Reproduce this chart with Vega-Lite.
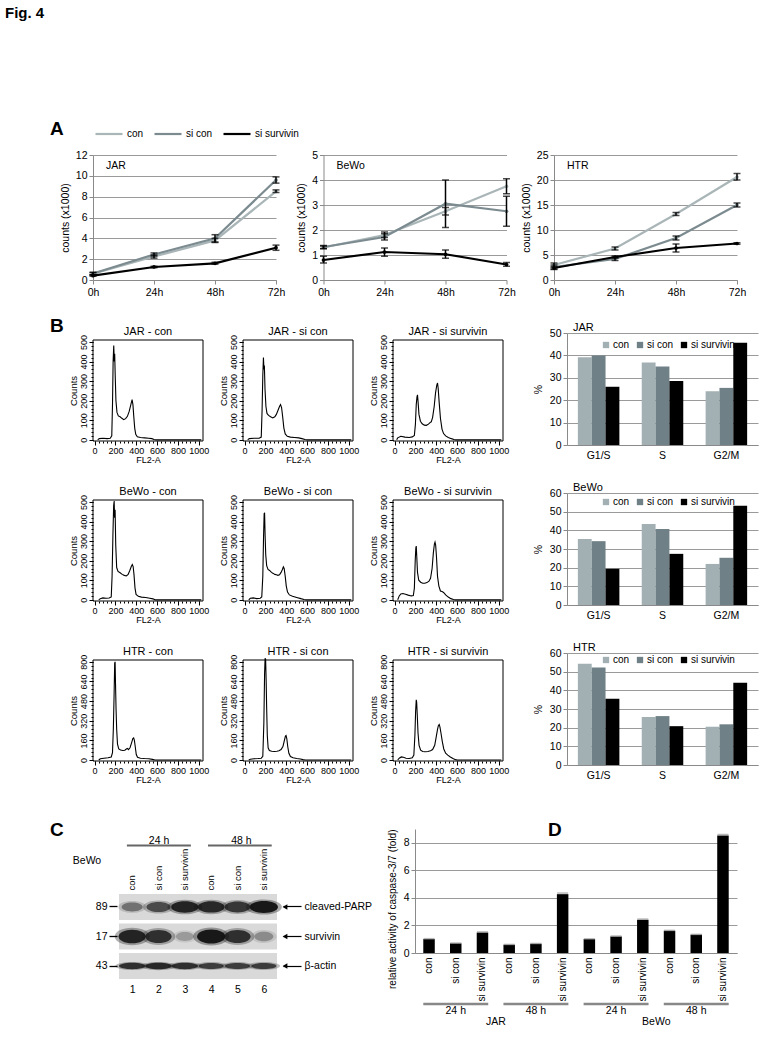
{
"$schema":"https://vega.github.io/schema/vega-lite/v6.json",
"padding":{"left":5,"top":6,"right":5,"bottom":5},
"background":"white",
"title":{"text":"Fig. 4","anchor":"start","frame":"bounds","dx":-45,"fontSize":15,"fontWeight":"bold","offset":98},
"config":{
 "font":"Liberation Sans",
 "view":{"stroke":null},
 "axis":{"labelColor":"#000","titleColor":"#000","labelFontSize":10.5,"titleFontSize":10.5,"titleFontWeight":"normal","domainColor":"#8a8a8a","tickColor":"#8a8a8a","gridColor":"#9a9a9a","gridWidth":1,"labelOverlap":false},
 "title":{"fontWeight":"normal","fontSize":11,"color":"#000"},
 "legend":{"labelFontSize":10,"labelColor":"#000"}
},
"resolve":{"scale":{"color":"independent"},"legend":{"color":"independent"}},
"columns":1,"spacing":19,
"datasets":{
 "growth":[
  {"c":"JAR","g":"con","t":"0h","v":0.6,"lo":0.5,"hi":0.7},
  {"c":"JAR","g":"con","t":"24h","v":2.25,"lo":2.1,"hi":2.4},
  {"c":"JAR","g":"con","t":"48h","v":3.8,"lo":3.6,"hi":4.0},
  {"c":"JAR","g":"con","t":"72h","v":8.5,"lo":8.4,"hi":8.65},
  {"c":"JAR","g":"si con","t":"0h","v":0.62,"lo":0.5,"hi":0.75},
  {"c":"JAR","g":"si con","t":"24h","v":2.45,"lo":2.3,"hi":2.6},
  {"c":"JAR","g":"si con","t":"48h","v":4.0,"lo":3.65,"hi":4.35},
  {"c":"JAR","g":"si con","t":"72h","v":9.6,"lo":9.3,"hi":9.9},
  {"c":"JAR","g":"si survivin","t":"0h","v":0.42,"lo":0.36,"hi":0.48},
  {"c":"JAR","g":"si survivin","t":"24h","v":1.25,"lo":1.18,"hi":1.32},
  {"c":"JAR","g":"si survivin","t":"48h","v":1.6,"lo":1.52,"hi":1.7},
  {"c":"JAR","g":"si survivin","t":"72h","v":3.1,"lo":2.85,"hi":3.35},
  {"c":"BeWo","g":"con","t":"0h","v":1.3,"lo":1.25,"hi":1.36},
  {"c":"BeWo","g":"con","t":"24h","v":1.8,"lo":1.7,"hi":1.92},
  {"c":"BeWo","g":"con","t":"48h","v":2.75,"lo":2.6,"hi":2.9},
  {"c":"BeWo","g":"con","t":"72h","v":3.75,"lo":3.45,"hi":4.05},
  {"c":"BeWo","g":"si con","t":"0h","v":1.32,"lo":1.26,"hi":1.38},
  {"c":"BeWo","g":"si con","t":"24h","v":1.72,"lo":1.6,"hi":1.85},
  {"c":"BeWo","g":"si con","t":"48h","v":3.05,"lo":2.1,"hi":4.0},
  {"c":"BeWo","g":"si con","t":"72h","v":2.75,"lo":2.15,"hi":3.35},
  {"c":"BeWo","g":"si survivin","t":"0h","v":0.8,"lo":0.68,"hi":0.95},
  {"c":"BeWo","g":"si survivin","t":"24h","v":1.12,"lo":0.95,"hi":1.28},
  {"c":"BeWo","g":"si survivin","t":"48h","v":1.03,"lo":0.87,"hi":1.2},
  {"c":"BeWo","g":"si survivin","t":"72h","v":0.62,"lo":0.55,"hi":0.7},
  {"c":"HTR","g":"con","t":"0h","v":3.0,"lo":2.5,"hi":3.4},
  {"c":"HTR","g":"con","t":"24h","v":6.3,"lo":6.0,"hi":6.6},
  {"c":"HTR","g":"con","t":"48h","v":13.2,"lo":12.9,"hi":13.5},
  {"c":"HTR","g":"con","t":"72h","v":20.6,"lo":20.0,"hi":21.3},
  {"c":"HTR","g":"si con","t":"0h","v":2.6,"lo":2.2,"hi":3.0},
  {"c":"HTR","g":"si con","t":"24h","v":4.2,"lo":3.9,"hi":4.5},
  {"c":"HTR","g":"si con","t":"48h","v":8.4,"lo":8.0,"hi":8.8},
  {"c":"HTR","g":"si con","t":"72h","v":15.0,"lo":14.6,"hi":15.4},
  {"c":"HTR","g":"si survivin","t":"0h","v":2.4,"lo":2.1,"hi":2.7},
  {"c":"HTR","g":"si survivin","t":"24h","v":4.6,"lo":4.4,"hi":4.8},
  {"c":"HTR","g":"si survivin","t":"48h","v":6.4,"lo":5.6,"hi":7.2},
  {"c":"HTR","g":"si survivin","t":"72h","v":7.3,"lo":7.15,"hi":7.45}
 ],
 "phase":[
  {"c":"JAR","ph":"G1/S","g":"con","v":39.2},{"c":"JAR","ph":"G1/S","g":"si con","v":40.0},{"c":"JAR","ph":"G1/S","g":"si survivin","v":26.0},
  {"c":"JAR","ph":"S","g":"con","v":36.8},{"c":"JAR","ph":"S","g":"si con","v":35.0},{"c":"JAR","ph":"S","g":"si survivin","v":28.6},
  {"c":"JAR","ph":"G2/M","g":"con","v":24.0},{"c":"JAR","ph":"G2/M","g":"si con","v":25.5},{"c":"JAR","ph":"G2/M","g":"si survivin","v":45.6},
  {"c":"BeWo","ph":"G1/S","g":"con","v":35.3},{"c":"BeWo","ph":"G1/S","g":"si con","v":34.2},{"c":"BeWo","ph":"G1/S","g":"si survivin","v":19.4},
  {"c":"BeWo","ph":"S","g":"con","v":43.4},{"c":"BeWo","ph":"S","g":"si con","v":40.7},{"c":"BeWo","ph":"S","g":"si survivin","v":27.4},
  {"c":"BeWo","ph":"G2/M","g":"con","v":22.0},{"c":"BeWo","ph":"G2/M","g":"si con","v":25.3},{"c":"BeWo","ph":"G2/M","g":"si survivin","v":53.2},
  {"c":"HTR","ph":"G1/S","g":"con","v":54.3},{"c":"HTR","ph":"G1/S","g":"si con","v":52.2},{"c":"HTR","ph":"G1/S","g":"si survivin","v":35.5},
  {"c":"HTR","ph":"S","g":"con","v":25.7},{"c":"HTR","ph":"S","g":"si con","v":26.2},{"c":"HTR","ph":"S","g":"si survivin","v":20.8},
  {"c":"HTR","ph":"G2/M","g":"con","v":20.5},{"c":"HTR","ph":"G2/M","g":"si con","v":21.8},{"c":"HTR","ph":"G2/M","g":"si survivin","v":44.0}
 ],
 "hist":[
  {"p":"JAR - con","x":30,"c":0},{"p":"JAR - con","x":45,"c":6},{"p":"JAR - con","x":80,"c":8},{"p":"JAR - con","x":120,"c":6},{"p":"JAR - con","x":150,"c":8},{"p":"JAR - con","x":165,"c":20},{"p":"JAR - con","x":172,"c":180},{"p":"JAR - con","x":178,"c":400},{"p":"JAR - con","x":184,"c":482},{"p":"JAR - con","x":189,"c":400},{"p":"JAR - con","x":193,"c":440},{"p":"JAR - con","x":198,"c":330},{"p":"JAR - con","x":205,"c":200},{"p":"JAR - con","x":215,"c":140},{"p":"JAR - con","x":228,"c":122},{"p":"JAR - con","x":245,"c":118},{"p":"JAR - con","x":262,"c":110},{"p":"JAR - con","x":280,"c":103},{"p":"JAR - con","x":298,"c":108},{"p":"JAR - con","x":315,"c":120},{"p":"JAR - con","x":332,"c":145},{"p":"JAR - con","x":348,"c":180},{"p":"JAR - con","x":360,"c":205},{"p":"JAR - con","x":368,"c":180},{"p":"JAR - con","x":376,"c":120},{"p":"JAR - con","x":385,"c":60},{"p":"JAR - con","x":395,"c":28},{"p":"JAR - con","x":410,"c":16},{"p":"JAR - con","x":440,"c":12},{"p":"JAR - con","x":480,"c":10},{"p":"JAR - con","x":520,"c":8},{"p":"JAR - con","x":550,"c":6},{"p":"JAR - con","x":570,"c":2},{"p":"JAR - con","x":590,"c":0},{"p":"JAR - con","x":1024,"c":0},
  {"p":"JAR - si con","x":30,"c":0},{"p":"JAR - si con","x":45,"c":6},{"p":"JAR - si con","x":90,"c":8},{"p":"JAR - si con","x":140,"c":8},{"p":"JAR - si con","x":160,"c":14},{"p":"JAR - si con","x":168,"c":150},{"p":"JAR - si con","x":175,"c":330},{"p":"JAR - si con","x":181,"c":420},{"p":"JAR - si con","x":186,"c":360},{"p":"JAR - si con","x":190,"c":380},{"p":"JAR - si con","x":196,"c":260},{"p":"JAR - si con","x":205,"c":170},{"p":"JAR - si con","x":215,"c":135},{"p":"JAR - si con","x":230,"c":125},{"p":"JAR - si con","x":250,"c":118},{"p":"JAR - si con","x":270,"c":112},{"p":"JAR - si con","x":290,"c":118},{"p":"JAR - si con","x":305,"c":130},{"p":"JAR - si con","x":320,"c":150},{"p":"JAR - si con","x":335,"c":170},{"p":"JAR - si con","x":345,"c":180},{"p":"JAR - si con","x":355,"c":165},{"p":"JAR - si con","x":365,"c":120},{"p":"JAR - si con","x":377,"c":60},{"p":"JAR - si con","x":390,"c":30},{"p":"JAR - si con","x":410,"c":18},{"p":"JAR - si con","x":440,"c":14},{"p":"JAR - si con","x":480,"c":12},{"p":"JAR - si con","x":520,"c":10},{"p":"JAR - si con","x":550,"c":6},{"p":"JAR - si con","x":580,"c":2},{"p":"JAR - si con","x":600,"c":0},{"p":"JAR - si con","x":1024,"c":0},
  {"p":"JAR - si survivin","x":20,"c":0},{"p":"JAR - si survivin","x":30,"c":10},{"p":"JAR - si survivin","x":60,"c":18},{"p":"JAR - si survivin","x":100,"c":14},{"p":"JAR - si survivin","x":140,"c":12},{"p":"JAR - si survivin","x":170,"c":15},{"p":"JAR - si survivin","x":190,"c":22},{"p":"JAR - si survivin","x":200,"c":80},{"p":"JAR - si survivin","x":208,"c":180},{"p":"JAR - si survivin","x":215,"c":220},{"p":"JAR - si survivin","x":220,"c":230},{"p":"JAR - si survivin","x":226,"c":190},{"p":"JAR - si survivin","x":234,"c":130},{"p":"JAR - si survivin","x":248,"c":95},{"p":"JAR - si survivin","x":265,"c":82},{"p":"JAR - si survivin","x":285,"c":75},{"p":"JAR - si survivin","x":305,"c":74},{"p":"JAR - si survivin","x":325,"c":80},{"p":"JAR - si survivin","x":340,"c":88},{"p":"JAR - si survivin","x":352,"c":92},{"p":"JAR - si survivin","x":365,"c":115},{"p":"JAR - si survivin","x":380,"c":170},{"p":"JAR - si survivin","x":393,"c":240},{"p":"JAR - si survivin","x":405,"c":280},{"p":"JAR - si survivin","x":412,"c":290},{"p":"JAR - si survivin","x":418,"c":265},{"p":"JAR - si survivin","x":428,"c":190},{"p":"JAR - si survivin","x":440,"c":110},{"p":"JAR - si survivin","x":455,"c":55},{"p":"JAR - si survivin","x":470,"c":32},{"p":"JAR - si survivin","x":490,"c":20},{"p":"JAR - si survivin","x":515,"c":12},{"p":"JAR - si survivin","x":545,"c":6},{"p":"JAR - si survivin","x":570,"c":2},{"p":"JAR - si survivin","x":585,"c":0},{"p":"JAR - si survivin","x":1024,"c":0},
  {"p":"BeWo - con","x":40,"c":0},{"p":"BeWo - con","x":55,"c":6},{"p":"BeWo - con","x":80,"c":10},{"p":"BeWo - con","x":110,"c":8},{"p":"BeWo - con","x":140,"c":9},{"p":"BeWo - con","x":160,"c":15},{"p":"BeWo - con","x":168,"c":120},{"p":"BeWo - con","x":176,"c":330},{"p":"BeWo - con","x":183,"c":480},{"p":"BeWo - con","x":188,"c":505},{"p":"BeWo - con","x":192,"c":420},{"p":"BeWo - con","x":197,"c":460},{"p":"BeWo - con","x":203,"c":280},{"p":"BeWo - con","x":212,"c":165},{"p":"BeWo - con","x":225,"c":145},{"p":"BeWo - con","x":245,"c":138},{"p":"BeWo - con","x":265,"c":130},{"p":"BeWo - con","x":285,"c":125},{"p":"BeWo - con","x":305,"c":122},{"p":"BeWo - con","x":322,"c":130},{"p":"BeWo - con","x":338,"c":150},{"p":"BeWo - con","x":352,"c":170},{"p":"BeWo - con","x":362,"c":180},{"p":"BeWo - con","x":370,"c":170},{"p":"BeWo - con","x":378,"c":130},{"p":"BeWo - con","x":388,"c":60},{"p":"BeWo - con","x":398,"c":28},{"p":"BeWo - con","x":420,"c":18},{"p":"BeWo - con","x":450,"c":14},{"p":"BeWo - con","x":490,"c":12},{"p":"BeWo - con","x":530,"c":8},{"p":"BeWo - con","x":560,"c":5},{"p":"BeWo - con","x":580,"c":0},{"p":"BeWo - con","x":1024,"c":0},
  {"p":"BeWo - si con","x":40,"c":0},{"p":"BeWo - si con","x":55,"c":8},{"p":"BeWo - si con","x":85,"c":10},{"p":"BeWo - si con","x":115,"c":6},{"p":"BeWo - si con","x":150,"c":8},{"p":"BeWo - si con","x":165,"c":15},{"p":"BeWo - si con","x":175,"c":120},{"p":"BeWo - si con","x":182,"c":320},{"p":"BeWo - si con","x":188,"c":440},{"p":"BeWo - si con","x":192,"c":445},{"p":"BeWo - si con","x":197,"c":330},{"p":"BeWo - si con","x":203,"c":230},{"p":"BeWo - si con","x":212,"c":175},{"p":"BeWo - si con","x":225,"c":155},{"p":"BeWo - si con","x":240,"c":150},{"p":"BeWo - si con","x":258,"c":140},{"p":"BeWo - si con","x":275,"c":135},{"p":"BeWo - si con","x":290,"c":130},{"p":"BeWo - si con","x":305,"c":128},{"p":"BeWo - si con","x":320,"c":125},{"p":"BeWo - si con","x":335,"c":128},{"p":"BeWo - si con","x":350,"c":140},{"p":"BeWo - si con","x":363,"c":155},{"p":"BeWo - si con","x":372,"c":168},{"p":"BeWo - si con","x":380,"c":160},{"p":"BeWo - si con","x":390,"c":120},{"p":"BeWo - si con","x":400,"c":70},{"p":"BeWo - si con","x":412,"c":40},{"p":"BeWo - si con","x":430,"c":25},{"p":"BeWo - si con","x":460,"c":18},{"p":"BeWo - si con","x":500,"c":12},{"p":"BeWo - si con","x":540,"c":6},{"p":"BeWo - si con","x":570,"c":2},{"p":"BeWo - si con","x":590,"c":0},{"p":"BeWo - si con","x":1024,"c":0},
  {"p":"BeWo - si survivin","x":30,"c":0},{"p":"BeWo - si survivin","x":45,"c":20},{"p":"BeWo - si survivin","x":60,"c":30},{"p":"BeWo - si survivin","x":80,"c":32},{"p":"BeWo - si survivin","x":105,"c":28},{"p":"BeWo - si survivin","x":130,"c":24},{"p":"BeWo - si survivin","x":160,"c":20},{"p":"BeWo - si survivin","x":180,"c":22},{"p":"BeWo - si survivin","x":190,"c":60},{"p":"BeWo - si survivin","x":198,"c":200},{"p":"BeWo - si survivin","x":204,"c":265},{"p":"BeWo - si survivin","x":208,"c":275},{"p":"BeWo - si survivin","x":213,"c":220},{"p":"BeWo - si survivin","x":220,"c":140},{"p":"BeWo - si survivin","x":232,"c":100},{"p":"BeWo - si survivin","x":250,"c":90},{"p":"BeWo - si survivin","x":270,"c":85},{"p":"BeWo - si survivin","x":290,"c":85},{"p":"BeWo - si survivin","x":310,"c":88},{"p":"BeWo - si survivin","x":330,"c":95},{"p":"BeWo - si survivin","x":345,"c":110},{"p":"BeWo - si survivin","x":360,"c":160},{"p":"BeWo - si survivin","x":372,"c":240},{"p":"BeWo - si survivin","x":382,"c":285},{"p":"BeWo - si survivin","x":388,"c":295},{"p":"BeWo - si survivin","x":394,"c":280},{"p":"BeWo - si survivin","x":402,"c":220},{"p":"BeWo - si survivin","x":412,"c":120},{"p":"BeWo - si survivin","x":425,"c":70},{"p":"BeWo - si survivin","x":440,"c":45},{"p":"BeWo - si survivin","x":455,"c":42},{"p":"BeWo - si survivin","x":470,"c":38},{"p":"BeWo - si survivin","x":490,"c":25},{"p":"BeWo - si survivin","x":515,"c":14},{"p":"BeWo - si survivin","x":540,"c":6},{"p":"BeWo - si survivin","x":565,"c":2},{"p":"BeWo - si survivin","x":580,"c":0},{"p":"BeWo - si survivin","x":1024,"c":0},
  {"p":"HTR - con","x":40,"c":0},{"p":"HTR - con","x":55,"c":10},{"p":"HTR - con","x":90,"c":15},{"p":"HTR - con","x":130,"c":18},{"p":"HTR - con","x":160,"c":25},{"p":"HTR - con","x":172,"c":60},{"p":"HTR - con","x":180,"c":250},{"p":"HTR - con","x":187,"c":520},{"p":"HTR - con","x":193,"c":790},{"p":"HTR - con","x":197,"c":800},{"p":"HTR - con","x":201,"c":620},{"p":"HTR - con","x":206,"c":420},{"p":"HTR - con","x":212,"c":250},{"p":"HTR - con","x":220,"c":130},{"p":"HTR - con","x":232,"c":90},{"p":"HTR - con","x":250,"c":82},{"p":"HTR - con","x":270,"c":78},{"p":"HTR - con","x":290,"c":80},{"p":"HTR - con","x":305,"c":90},{"p":"HTR - con","x":315,"c":95},{"p":"HTR - con","x":325,"c":85},{"p":"HTR - con","x":340,"c":100},{"p":"HTR - con","x":355,"c":140},{"p":"HTR - con","x":367,"c":175},{"p":"HTR - con","x":375,"c":180},{"p":"HTR - con","x":382,"c":160},{"p":"HTR - con","x":390,"c":110},{"p":"HTR - con","x":400,"c":45},{"p":"HTR - con","x":412,"c":22},{"p":"HTR - con","x":440,"c":15},{"p":"HTR - con","x":480,"c":12},{"p":"HTR - con","x":520,"c":10},{"p":"HTR - con","x":555,"c":5},{"p":"HTR - con","x":580,"c":0},{"p":"HTR - con","x":1024,"c":0},
  {"p":"HTR - si con","x":40,"c":0},{"p":"HTR - si con","x":55,"c":6},{"p":"HTR - si con","x":90,"c":10},{"p":"HTR - si con","x":130,"c":12},{"p":"HTR - si con","x":160,"c":15},{"p":"HTR - si con","x":175,"c":30},{"p":"HTR - si con","x":185,"c":300},{"p":"HTR - si con","x":192,"c":700},{"p":"HTR - si con","x":197,"c":830},{"p":"HTR - si con","x":202,"c":820},{"p":"HTR - si con","x":207,"c":650},{"p":"HTR - si con","x":212,"c":420},{"p":"HTR - si con","x":218,"c":200},{"p":"HTR - si con","x":226,"c":100},{"p":"HTR - si con","x":238,"c":78},{"p":"HTR - si con","x":260,"c":72},{"p":"HTR - si con","x":285,"c":70},{"p":"HTR - si con","x":310,"c":72},{"p":"HTR - si con","x":330,"c":75},{"p":"HTR - si con","x":350,"c":85},{"p":"HTR - si con","x":368,"c":110},{"p":"HTR - si con","x":382,"c":160},{"p":"HTR - si con","x":392,"c":195},{"p":"HTR - si con","x":398,"c":200},{"p":"HTR - si con","x":405,"c":175},{"p":"HTR - si con","x":414,"c":110},{"p":"HTR - si con","x":425,"c":55},{"p":"HTR - si con","x":440,"c":28},{"p":"HTR - si con","x":465,"c":18},{"p":"HTR - si con","x":500,"c":12},{"p":"HTR - si con","x":535,"c":8},{"p":"HTR - si con","x":560,"c":3},{"p":"HTR - si con","x":580,"c":0},{"p":"HTR - si con","x":1024,"c":0},
  {"p":"HTR - si survivin","x":30,"c":0},{"p":"HTR - si survivin","x":45,"c":15},{"p":"HTR - si survivin","x":65,"c":25},{"p":"HTR - si survivin","x":85,"c":22},{"p":"HTR - si survivin","x":110,"c":15},{"p":"HTR - si survivin","x":140,"c":12},{"p":"HTR - si survivin","x":170,"c":18},{"p":"HTR - si survivin","x":185,"c":40},{"p":"HTR - si survivin","x":195,"c":200},{"p":"HTR - si survivin","x":202,"c":400},{"p":"HTR - si survivin","x":208,"c":490},{"p":"HTR - si survivin","x":212,"c":470},{"p":"HTR - si survivin","x":218,"c":360},{"p":"HTR - si survivin","x":225,"c":220},{"p":"HTR - si survivin","x":235,"c":120},{"p":"HTR - si survivin","x":250,"c":80},{"p":"HTR - si survivin","x":270,"c":70},{"p":"HTR - si survivin","x":295,"c":68},{"p":"HTR - si survivin","x":320,"c":70},{"p":"HTR - si survivin","x":345,"c":75},{"p":"HTR - si survivin","x":365,"c":85},{"p":"HTR - si survivin","x":385,"c":120},{"p":"HTR - si survivin","x":400,"c":190},{"p":"HTR - si survivin","x":412,"c":250},{"p":"HTR - si survivin","x":420,"c":280},{"p":"HTR - si survivin","x":428,"c":290},{"p":"HTR - si survivin","x":435,"c":270},{"p":"HTR - si survivin","x":445,"c":220},{"p":"HTR - si survivin","x":458,"c":150},{"p":"HTR - si survivin","x":472,"c":90},{"p":"HTR - si survivin","x":490,"c":55},{"p":"HTR - si survivin","x":510,"c":40},{"p":"HTR - si survivin","x":535,"c":25},{"p":"HTR - si survivin","x":560,"c":12},{"p":"HTR - si survivin","x":585,"c":3},{"p":"HTR - si survivin","x":600,"c":0},{"p":"HTR - si survivin","x":1024,"c":0}
 ],
 "casp":[
  {"id":"JAR|24 h|con","v":1.01,"hi":1.04},{"id":"JAR|24 h|si con","v":0.7,"hi":0.72},{"id":"JAR|24 h|si survivin","v":1.49,"hi":1.53},
  {"id":"JAR|48 h|con","v":0.6,"hi":0.62},{"id":"JAR|48 h|si con","v":0.67,"hi":0.69},{"id":"JAR|48 h|si survivin","v":4.27,"hi":4.35},
  {"id":"BeWo|24 h|con","v":1.01,"hi":1.03},{"id":"BeWo|24 h|si con","v":1.2,"hi":1.23},{"id":"BeWo|24 h|si survivin","v":2.41,"hi":2.46},
  {"id":"BeWo|48 h|con","v":1.61,"hi":1.64},{"id":"BeWo|48 h|si con","v":1.33,"hi":1.35},{"id":"BeWo|48 h|si survivin","v":8.53,"hi":8.6}
 ],
 "caspgrp":[
  {"tm":"24 h","a":"JAR|24 h|con","b":"JAR|24 h|si survivin","m":"JAR|24 h|si con"},
  {"tm":"48 h","a":"JAR|48 h|con","b":"JAR|48 h|si survivin","m":"JAR|48 h|si con"},
  {"tm":"24 h","a":"BeWo|24 h|con","b":"BeWo|24 h|si survivin","m":"BeWo|24 h|si con"},
  {"tm":"48 h","a":"BeWo|48 h|con","b":"BeWo|48 h|si survivin","m":"BeWo|48 h|si con"}
 ],
 "caspcell":[{"cl":"JAR","k":"JAR|48 h|con"},{"cl":"BeWo","k":"BeWo|48 h|con"}],
 "blotrows":[{"row":"cleaved-PARP"},{"row":"survivin"},{"row":"β-actin"}],
 "lanes":[{"lane":1,"cond":"con"},{"lane":2,"cond":"si con"},{"lane":3,"cond":"si survivin"},{"lane":4,"cond":"con"},{"lane":5,"cond":"si con"},{"lane":6,"cond":"si survivin"}],
 "bands":[
  {"row":"cleaved-PARP","lane":1,"k":0.35},{"row":"cleaved-PARP","lane":2,"k":0.6},{"row":"cleaved-PARP","lane":3,"k":0.9},{"row":"cleaved-PARP","lane":4,"k":0.85},{"row":"cleaved-PARP","lane":5,"k":0.75},{"row":"cleaved-PARP","lane":6,"k":1.0},
  {"row":"survivin","lane":1,"k":0.9},{"row":"survivin","lane":2,"k":0.8},{"row":"survivin","lane":3,"k":0.12},{"row":"survivin","lane":4,"k":1.0},{"row":"survivin","lane":5,"k":0.8},{"row":"survivin","lane":6,"k":0.2},
  {"row":"β-actin","lane":1,"k":0.8},{"row":"β-actin","lane":2,"k":0.85},{"row":"β-actin","lane":3,"k":0.8},{"row":"β-actin","lane":4,"k":0.7},{"row":"β-actin","lane":5,"k":0.7},{"row":"β-actin","lane":6,"k":0.7}
 ],
 "blotgrp":[{"tm":"24 h","a":0.8,"b":3.23,"m":2.02},{"tm":"48 h","a":3.88,"b":6.3,"m":5.15}]
},
"concat":[
 {
  "hconcat":[
   {
    "width":183,"height":125,
    "resolve":{"axis":{"x":"independent","y":"independent"}},
    "layer":[
     {"data":{"name":"growth"},"transform":[{"filter":"datum.c=='JAR'"}],
      "mark":{"type":"line","strokeWidth":2.2,"point":{"filled":true,"size":14}},
      "encoding":{
       "x":{"field":"t","type":"ordinal","sort":["0h","24h","48h","72h"],"scale":{"type":"point","padding":0},"axis":{"title":null,"labelAngle":0,"tickSize":4,"labelPadding":3}},
       "y":{"field":"v","type":"quantitative","scale":{"domain":[0,12],"nice":false},"axis":{"values":[0,2,4,6,8,10,12],"title":"counts (x1000)","grid":true,"tickSize":4,"titlePadding":5}},
       "color":{"field":"g","type":"nominal","scale":{"domain":["con","si con","si survivin"],"range":["#a9b5b7","#7c8b90","#000000"]},
        "legend":{"orient":"none","legendX":-43,"legendY":-36,"direction":"horizontal","title":"A","titleOrient":"left","titleFontSize":19,"titleFontWeight":"bold","titlePadding":30,"titleBaseline":"middle","symbolType":"stroke","symbolStrokeWidth":2.2,"symbolSize":729,"labelFontSize":10,"columnPadding":6,"labelOffset":3}}}},
     {"data":{"name":"growth"},"transform":[{"filter":"datum.c=='JAR'"}],
      "mark":{"type":"errorbar","color":"#000","thickness":1.5,"ticks":{"size":7,"thickness":1.5,"color":"#000"}},
      "encoding":{
       "x":{"field":"t","type":"ordinal","sort":["0h","24h","48h","72h"],"axis":null},
       "y":{"field":"lo","type":"quantitative","axis":null},"y2":{"field":"hi"}}},
     {"data":{"values":[{"lab":"JAR","c":"JAR"}]},
      "mark":{"type":"text","align":"left","baseline":"middle","dx":13,"dy":11,"fontSize":10.5},
      "encoding":{"x":{"datum":"0h","type":"ordinal","axis":null},"y":{"datum":12,"type":"quantitative","axis":null},"text":{"field":"lab"}}}
    ]
   },
   {
    "width":183,"height":125,
    "resolve":{"axis":{"x":"independent","y":"independent"}},
    "layer":[
     {"data":{"name":"growth"},"transform":[{"filter":"datum.c=='BeWo'"}],
      "mark":{"type":"line","strokeWidth":2.2,"point":{"filled":true,"size":14}},
      "encoding":{
       "x":{"field":"t","type":"ordinal","sort":["0h","24h","48h","72h"],"scale":{"type":"point","padding":0},"axis":{"title":null,"labelAngle":0,"tickSize":4,"labelPadding":3}},
       "y":{"field":"v","type":"quantitative","scale":{"domain":[0,5],"nice":false},"axis":{"values":[0,1,2,3,4,5],"title":"counts (x1000)","grid":true,"tickSize":4,"titlePadding":5}},
       "color":{"field":"g","type":"nominal","legend":null}}},
     {"data":{"name":"growth"},"transform":[{"filter":"datum.c=='BeWo'"}],
      "mark":{"type":"errorbar","color":"#000","thickness":1.5,"ticks":{"size":7,"thickness":1.5,"color":"#000"}},
      "encoding":{
       "x":{"field":"t","type":"ordinal","sort":["0h","24h","48h","72h"],"axis":null},
       "y":{"field":"lo","type":"quantitative","axis":null},"y2":{"field":"hi"}}},
     {"data":{"values":[{"lab":"BeWo","c":"BeWo"}]},
      "mark":{"type":"text","align":"left","baseline":"middle","dx":13,"dy":11,"fontSize":10.5},
      "encoding":{"x":{"datum":"0h","type":"ordinal","axis":null},"y":{"datum":5,"type":"quantitative","axis":null},"text":{"field":"lab"}}}
    ]
   },
   {
    "width":183,"height":125,
    "resolve":{"axis":{"x":"independent","y":"independent"}},
    "layer":[
     {"data":{"name":"growth"},"transform":[{"filter":"datum.c=='HTR'"}],
      "mark":{"type":"line","strokeWidth":2.2,"point":{"filled":true,"size":14}},
      "encoding":{
       "x":{"field":"t","type":"ordinal","sort":["0h","24h","48h","72h"],"scale":{"type":"point","padding":0},"axis":{"title":null,"labelAngle":0,"tickSize":4,"labelPadding":3}},
       "y":{"field":"v","type":"quantitative","scale":{"domain":[0,25],"nice":false},"axis":{"values":[0,5,10,15,20,25],"title":"counts (x1000)","grid":true,"tickSize":4,"titlePadding":5}},
       "color":{"field":"g","type":"nominal","legend":null}}},
     {"data":{"name":"growth"},"transform":[{"filter":"datum.c=='HTR'"}],
      "mark":{"type":"errorbar","color":"#000","thickness":1.5,"ticks":{"size":7,"thickness":1.5,"color":"#000"}},
      "encoding":{
       "x":{"field":"t","type":"ordinal","sort":["0h","24h","48h","72h"],"axis":null},
       "y":{"field":"lo","type":"quantitative","axis":null},"y2":{"field":"hi"}}},
     {"data":{"values":[{"lab":"HTR","c":"HTR"}]},
      "mark":{"type":"text","align":"left","baseline":"middle","dx":13,"dy":11,"fontSize":10.5},
      "encoding":{"x":{"datum":"0h","type":"ordinal","axis":null},"y":{"datum":25,"type":"quantitative","axis":null},"text":{"field":"lab"}}}
    ]
   }
  ],
  "bounds":"flush","spacing":47.5,
  "resolve":{"legend":{"color":"independent"}}
 },
 {
  "columns":2,"spacing":24,
  "concat":[
   {
    "title":{"text":"B","anchor":"start","frame":"bounds","dx":-18,"offset":-10,"fontSize":19,"fontWeight":"bold"},
    "columns":3,"bounds":"flush","spacing":{"row":52,"column":40},
    "concat":[
     {"width":110,"height":108,"title":{"text":"JAR - con","offset":-4,"fontSize":11},
      "data":{"name":"hist"},"transform":[{"filter":"datum.p=='JAR - con'"}],
      "layer":[
       {"data":{"values":[{"f":1}]},"mark":{"type":"rect","filled":false,"stroke":"#000","strokeWidth":1},"encoding":{"x":{"datum":-15,"type":"quantitative","axis":null},"x2":{"datum":1040},"y":{"datum":-6,"type":"quantitative","axis":null},"y2":{"datum":510}}},
       {"mark":{"type":"line","color":"#000","strokeWidth":1.1},"encoding":{"x":{"field":"x","type":"quantitative","scale":{"domain":[-15,1040],"nice":false,"zero":false},"axis":{"orient":"bottom","values":[0,200,400,600,800,1000],"format":"d","title":"FL2-A","labelFontSize":9,"titleFontSize":9,"tickSize":4,"tickColor":"#000","domain":false,"grid":false,"labelPadding":1,"titlePadding":0}},"y":{"field":"c","type":"quantitative","scale":{"domain":[-6,510],"nice":false,"zero":false,"range":[108,7]},"axis":{"orient":"left","values":[0,100,200,300,400,500],"title":"Counts","labelAngle":-90,"labelFontSize":9,"titleFontSize":9.5,"tickSize":4,"tickColor":"#000","domain":false,"grid":false,"labelPadding":1,"titlePadding":1}}}},
       {"mark":{"type":"line","opacity":0},"encoding":{"x":{"field":"x","type":"quantitative","axis":{"orient":"bottom","values":[0,40,80,120,160,200,240,280,320,360,400,440,480,520,560,600,640,680,720,760,800,840,880,920,960,1000],"labels":false,"title":null,"tickSize":2,"tickColor":"#000","domain":false,"grid":false}},"y":{"field":"c","type":"quantitative","axis":{"orient":"left","values":[0,20,40,60,80,100,120,140,160,180,200,220,240,260,280,300,320,340,360,380,400,420,440,460,480,500],"labels":false,"title":null,"tickSize":2,"tickColor":"#000","domain":false,"grid":false}}}}
      ],"resolve":{"axis":{"x":"independent","y":"independent"}}},
     {"width":110,"height":108,"title":{"text":"JAR - si con","offset":-4,"fontSize":11},
      "data":{"name":"hist"},"transform":[{"filter":"datum.p=='JAR - si con'"}],
      "layer":[
       {"data":{"values":[{"f":1}]},"mark":{"type":"rect","filled":false,"stroke":"#000","strokeWidth":1},"encoding":{"x":{"datum":-15,"type":"quantitative","axis":null},"x2":{"datum":1040},"y":{"datum":-6,"type":"quantitative","axis":null},"y2":{"datum":510}}},
       {"mark":{"type":"line","color":"#000","strokeWidth":1.1},"encoding":{"x":{"field":"x","type":"quantitative","scale":{"domain":[-15,1040],"nice":false,"zero":false},"axis":{"orient":"bottom","values":[0,200,400,600,800,1000],"format":"d","title":"FL2-A","labelFontSize":9,"titleFontSize":9,"tickSize":4,"tickColor":"#000","domain":false,"grid":false,"labelPadding":1,"titlePadding":0}},"y":{"field":"c","type":"quantitative","scale":{"domain":[-6,510],"nice":false,"zero":false,"range":[108,7]},"axis":{"orient":"left","values":[0,100,200,300,400,500],"title":"Counts","labelAngle":-90,"labelFontSize":9,"titleFontSize":9.5,"tickSize":4,"tickColor":"#000","domain":false,"grid":false,"labelPadding":1,"titlePadding":1}}}},
       {"mark":{"type":"line","opacity":0},"encoding":{"x":{"field":"x","type":"quantitative","axis":{"orient":"bottom","values":[0,40,80,120,160,200,240,280,320,360,400,440,480,520,560,600,640,680,720,760,800,840,880,920,960,1000],"labels":false,"title":null,"tickSize":2,"tickColor":"#000","domain":false,"grid":false}},"y":{"field":"c","type":"quantitative","axis":{"orient":"left","values":[0,20,40,60,80,100,120,140,160,180,200,220,240,260,280,300,320,340,360,380,400,420,440,460,480,500],"labels":false,"title":null,"tickSize":2,"tickColor":"#000","domain":false,"grid":false}}}}
      ],"resolve":{"axis":{"x":"independent","y":"independent"}}},
     {"width":110,"height":108,"title":{"text":"JAR - si survivin","offset":-4,"fontSize":11},
      "data":{"name":"hist"},"transform":[{"filter":"datum.p=='JAR - si survivin'"}],
      "layer":[
       {"data":{"values":[{"f":1}]},"mark":{"type":"rect","filled":false,"stroke":"#000","strokeWidth":1},"encoding":{"x":{"datum":-15,"type":"quantitative","axis":null},"x2":{"datum":1040},"y":{"datum":-6,"type":"quantitative","axis":null},"y2":{"datum":510}}},
       {"mark":{"type":"line","color":"#000","strokeWidth":1.1},"encoding":{"x":{"field":"x","type":"quantitative","scale":{"domain":[-15,1040],"nice":false,"zero":false},"axis":{"orient":"bottom","values":[0,200,400,600,800,1000],"format":"d","title":"FL2-A","labelFontSize":9,"titleFontSize":9,"tickSize":4,"tickColor":"#000","domain":false,"grid":false,"labelPadding":1,"titlePadding":0}},"y":{"field":"c","type":"quantitative","scale":{"domain":[-6,510],"nice":false,"zero":false,"range":[108,7]},"axis":{"orient":"left","values":[0,100,200,300,400,500],"title":"Counts","labelAngle":-90,"labelFontSize":9,"titleFontSize":9.5,"tickSize":4,"tickColor":"#000","domain":false,"grid":false,"labelPadding":1,"titlePadding":1}}}},
       {"mark":{"type":"line","opacity":0},"encoding":{"x":{"field":"x","type":"quantitative","axis":{"orient":"bottom","values":[0,40,80,120,160,200,240,280,320,360,400,440,480,520,560,600,640,680,720,760,800,840,880,920,960,1000],"labels":false,"title":null,"tickSize":2,"tickColor":"#000","domain":false,"grid":false}},"y":{"field":"c","type":"quantitative","axis":{"orient":"left","values":[0,20,40,60,80,100,120,140,160,180,200,220,240,260,280,300,320,340,360,380,400,420,440,460,480,500],"labels":false,"title":null,"tickSize":2,"tickColor":"#000","domain":false,"grid":false}}}}
      ],"resolve":{"axis":{"x":"independent","y":"independent"}}},
     {"width":110,"height":108,"title":{"text":"BeWo - con","offset":-4,"fontSize":11},
      "data":{"name":"hist"},"transform":[{"filter":"datum.p=='BeWo - con'"}],
      "layer":[
       {"data":{"values":[{"f":1}]},"mark":{"type":"rect","filled":false,"stroke":"#000","strokeWidth":1},"encoding":{"x":{"datum":-15,"type":"quantitative","axis":null},"x2":{"datum":1040},"y":{"datum":-6,"type":"quantitative","axis":null},"y2":{"datum":510}}},
       {"mark":{"type":"line","color":"#000","strokeWidth":1.1},"encoding":{"x":{"field":"x","type":"quantitative","scale":{"domain":[-15,1040],"nice":false,"zero":false},"axis":{"orient":"bottom","values":[0,200,400,600,800,1000],"format":"d","title":"FL2-A","labelFontSize":9,"titleFontSize":9,"tickSize":4,"tickColor":"#000","domain":false,"grid":false,"labelPadding":1,"titlePadding":0}},"y":{"field":"c","type":"quantitative","scale":{"domain":[-6,510],"nice":false,"zero":false,"range":[108,7]},"axis":{"orient":"left","values":[0,100,200,300,400,500],"title":"Counts","labelAngle":-90,"labelFontSize":9,"titleFontSize":9.5,"tickSize":4,"tickColor":"#000","domain":false,"grid":false,"labelPadding":1,"titlePadding":1}}}},
       {"mark":{"type":"line","opacity":0},"encoding":{"x":{"field":"x","type":"quantitative","axis":{"orient":"bottom","values":[0,40,80,120,160,200,240,280,320,360,400,440,480,520,560,600,640,680,720,760,800,840,880,920,960,1000],"labels":false,"title":null,"tickSize":2,"tickColor":"#000","domain":false,"grid":false}},"y":{"field":"c","type":"quantitative","axis":{"orient":"left","values":[0,20,40,60,80,100,120,140,160,180,200,220,240,260,280,300,320,340,360,380,400,420,440,460,480,500],"labels":false,"title":null,"tickSize":2,"tickColor":"#000","domain":false,"grid":false}}}}
      ],"resolve":{"axis":{"x":"independent","y":"independent"}}},
     {"width":110,"height":108,"title":{"text":"BeWo - si con","offset":-4,"fontSize":11},
      "data":{"name":"hist"},"transform":[{"filter":"datum.p=='BeWo - si con'"}],
      "layer":[
       {"data":{"values":[{"f":1}]},"mark":{"type":"rect","filled":false,"stroke":"#000","strokeWidth":1},"encoding":{"x":{"datum":-15,"type":"quantitative","axis":null},"x2":{"datum":1040},"y":{"datum":-6,"type":"quantitative","axis":null},"y2":{"datum":510}}},
       {"mark":{"type":"line","color":"#000","strokeWidth":1.1},"encoding":{"x":{"field":"x","type":"quantitative","scale":{"domain":[-15,1040],"nice":false,"zero":false},"axis":{"orient":"bottom","values":[0,200,400,600,800,1000],"format":"d","title":"FL2-A","labelFontSize":9,"titleFontSize":9,"tickSize":4,"tickColor":"#000","domain":false,"grid":false,"labelPadding":1,"titlePadding":0}},"y":{"field":"c","type":"quantitative","scale":{"domain":[-6,510],"nice":false,"zero":false,"range":[108,7]},"axis":{"orient":"left","values":[0,100,200,300,400,500],"title":"Counts","labelAngle":-90,"labelFontSize":9,"titleFontSize":9.5,"tickSize":4,"tickColor":"#000","domain":false,"grid":false,"labelPadding":1,"titlePadding":1}}}},
       {"mark":{"type":"line","opacity":0},"encoding":{"x":{"field":"x","type":"quantitative","axis":{"orient":"bottom","values":[0,40,80,120,160,200,240,280,320,360,400,440,480,520,560,600,640,680,720,760,800,840,880,920,960,1000],"labels":false,"title":null,"tickSize":2,"tickColor":"#000","domain":false,"grid":false}},"y":{"field":"c","type":"quantitative","axis":{"orient":"left","values":[0,20,40,60,80,100,120,140,160,180,200,220,240,260,280,300,320,340,360,380,400,420,440,460,480,500],"labels":false,"title":null,"tickSize":2,"tickColor":"#000","domain":false,"grid":false}}}}
      ],"resolve":{"axis":{"x":"independent","y":"independent"}}},
     {"width":110,"height":108,"title":{"text":"BeWo - si survivin","offset":-4,"fontSize":11},
      "data":{"name":"hist"},"transform":[{"filter":"datum.p=='BeWo - si survivin'"}],
      "layer":[
       {"data":{"values":[{"f":1}]},"mark":{"type":"rect","filled":false,"stroke":"#000","strokeWidth":1},"encoding":{"x":{"datum":-15,"type":"quantitative","axis":null},"x2":{"datum":1040},"y":{"datum":-6,"type":"quantitative","axis":null},"y2":{"datum":510}}},
       {"mark":{"type":"line","color":"#000","strokeWidth":1.1},"encoding":{"x":{"field":"x","type":"quantitative","scale":{"domain":[-15,1040],"nice":false,"zero":false},"axis":{"orient":"bottom","values":[0,200,400,600,800,1000],"format":"d","title":"FL2-A","labelFontSize":9,"titleFontSize":9,"tickSize":4,"tickColor":"#000","domain":false,"grid":false,"labelPadding":1,"titlePadding":0}},"y":{"field":"c","type":"quantitative","scale":{"domain":[-6,510],"nice":false,"zero":false,"range":[108,7]},"axis":{"orient":"left","values":[0,100,200,300,400,500],"title":"Counts","labelAngle":-90,"labelFontSize":9,"titleFontSize":9.5,"tickSize":4,"tickColor":"#000","domain":false,"grid":false,"labelPadding":1,"titlePadding":1}}}},
       {"mark":{"type":"line","opacity":0},"encoding":{"x":{"field":"x","type":"quantitative","axis":{"orient":"bottom","values":[0,40,80,120,160,200,240,280,320,360,400,440,480,520,560,600,640,680,720,760,800,840,880,920,960,1000],"labels":false,"title":null,"tickSize":2,"tickColor":"#000","domain":false,"grid":false}},"y":{"field":"c","type":"quantitative","axis":{"orient":"left","values":[0,20,40,60,80,100,120,140,160,180,200,220,240,260,280,300,320,340,360,380,400,420,440,460,480,500],"labels":false,"title":null,"tickSize":2,"tickColor":"#000","domain":false,"grid":false}}}}
      ],"resolve":{"axis":{"x":"independent","y":"independent"}}},
     {"width":110,"height":108,"title":{"text":"HTR - con","offset":-4,"fontSize":11},
      "data":{"name":"hist"},"transform":[{"filter":"datum.p=='HTR - con'"}],
      "layer":[
       {"data":{"values":[{"f":1}]},"mark":{"type":"rect","filled":false,"stroke":"#000","strokeWidth":1},"encoding":{"x":{"datum":-15,"type":"quantitative","axis":null},"x2":{"datum":1040},"y":{"datum":-8,"type":"quantitative","axis":null},"y2":{"datum":815}}},
       {"mark":{"type":"line","color":"#000","strokeWidth":1.1},"encoding":{"x":{"field":"x","type":"quantitative","scale":{"domain":[-15,1040],"nice":false,"zero":false},"axis":{"orient":"bottom","values":[0,200,400,600,800,1000],"format":"d","title":"FL2-A","labelFontSize":9,"titleFontSize":9,"tickSize":4,"tickColor":"#000","domain":false,"grid":false,"labelPadding":1,"titlePadding":0}},"y":{"field":"c","type":"quantitative","scale":{"domain":[-8,815],"nice":false,"zero":false,"range":[108,7]},"axis":{"orient":"left","values":[0,160,320,480,640,800],"title":"Counts","labelAngle":-90,"labelFontSize":9,"titleFontSize":9.5,"tickSize":4,"tickColor":"#000","domain":false,"grid":false,"labelPadding":1,"titlePadding":1}}}},
       {"mark":{"type":"line","opacity":0},"encoding":{"x":{"field":"x","type":"quantitative","axis":{"orient":"bottom","values":[0,40,80,120,160,200,240,280,320,360,400,440,480,520,560,600,640,680,720,760,800,840,880,920,960,1000],"labels":false,"title":null,"tickSize":2,"tickColor":"#000","domain":false,"grid":false}},"y":{"field":"c","type":"quantitative","axis":{"orient":"left","values":[0,32,64,96,128,160,192,224,256,288,320,352,384,416,448,480,512,544,576,608,640,672,704,736,768,800],"labels":false,"title":null,"tickSize":2,"tickColor":"#000","domain":false,"grid":false}}}}
      ],"resolve":{"axis":{"x":"independent","y":"independent"}}},
     {"width":110,"height":108,"title":{"text":"HTR - si con","offset":-4,"fontSize":11},
      "data":{"name":"hist"},"transform":[{"filter":"datum.p=='HTR - si con'"}],
      "layer":[
       {"data":{"values":[{"f":1}]},"mark":{"type":"rect","filled":false,"stroke":"#000","strokeWidth":1},"encoding":{"x":{"datum":-15,"type":"quantitative","axis":null},"x2":{"datum":1040},"y":{"datum":-8,"type":"quantitative","axis":null},"y2":{"datum":815}}},
       {"mark":{"type":"line","color":"#000","strokeWidth":1.1},"encoding":{"x":{"field":"x","type":"quantitative","scale":{"domain":[-15,1040],"nice":false,"zero":false},"axis":{"orient":"bottom","values":[0,200,400,600,800,1000],"format":"d","title":"FL2-A","labelFontSize":9,"titleFontSize":9,"tickSize":4,"tickColor":"#000","domain":false,"grid":false,"labelPadding":1,"titlePadding":0}},"y":{"field":"c","type":"quantitative","scale":{"domain":[-8,815],"nice":false,"zero":false,"range":[108,7]},"axis":{"orient":"left","values":[0,160,320,480,640,800],"title":"Counts","labelAngle":-90,"labelFontSize":9,"titleFontSize":9.5,"tickSize":4,"tickColor":"#000","domain":false,"grid":false,"labelPadding":1,"titlePadding":1}}}},
       {"mark":{"type":"line","opacity":0},"encoding":{"x":{"field":"x","type":"quantitative","axis":{"orient":"bottom","values":[0,40,80,120,160,200,240,280,320,360,400,440,480,520,560,600,640,680,720,760,800,840,880,920,960,1000],"labels":false,"title":null,"tickSize":2,"tickColor":"#000","domain":false,"grid":false}},"y":{"field":"c","type":"quantitative","axis":{"orient":"left","values":[0,32,64,96,128,160,192,224,256,288,320,352,384,416,448,480,512,544,576,608,640,672,704,736,768,800],"labels":false,"title":null,"tickSize":2,"tickColor":"#000","domain":false,"grid":false}}}}
      ],"resolve":{"axis":{"x":"independent","y":"independent"}}},
     {"width":110,"height":108,"title":{"text":"HTR - si survivin","offset":-4,"fontSize":11},
      "data":{"name":"hist"},"transform":[{"filter":"datum.p=='HTR - si survivin'"}],
      "layer":[
       {"data":{"values":[{"f":1}]},"mark":{"type":"rect","filled":false,"stroke":"#000","strokeWidth":1},"encoding":{"x":{"datum":-15,"type":"quantitative","axis":null},"x2":{"datum":1040},"y":{"datum":-8,"type":"quantitative","axis":null},"y2":{"datum":815}}},
       {"mark":{"type":"line","color":"#000","strokeWidth":1.1},"encoding":{"x":{"field":"x","type":"quantitative","scale":{"domain":[-15,1040],"nice":false,"zero":false},"axis":{"orient":"bottom","values":[0,200,400,600,800,1000],"format":"d","title":"FL2-A","labelFontSize":9,"titleFontSize":9,"tickSize":4,"tickColor":"#000","domain":false,"grid":false,"labelPadding":1,"titlePadding":0}},"y":{"field":"c","type":"quantitative","scale":{"domain":[-8,815],"nice":false,"zero":false,"range":[108,7]},"axis":{"orient":"left","values":[0,160,320,480,640,800],"title":"Counts","labelAngle":-90,"labelFontSize":9,"titleFontSize":9.5,"tickSize":4,"tickColor":"#000","domain":false,"grid":false,"labelPadding":1,"titlePadding":1}}}},
       {"mark":{"type":"line","opacity":0},"encoding":{"x":{"field":"x","type":"quantitative","axis":{"orient":"bottom","values":[0,40,80,120,160,200,240,280,320,360,400,440,480,520,560,600,640,680,720,760,800,840,880,920,960,1000],"labels":false,"title":null,"tickSize":2,"tickColor":"#000","domain":false,"grid":false}},"y":{"field":"c","type":"quantitative","axis":{"orient":"left","values":[0,32,64,96,128,160,192,224,256,288,320,352,384,416,448,480,512,544,576,608,640,672,704,736,768,800],"labels":false,"title":null,"tickSize":2,"tickColor":"#000","domain":false,"grid":false}}}}
      ],"resolve":{"axis":{"x":"independent","y":"independent"}}}
    ]
   },
   {
    "vconcat":[
     {"width":191,"height":112,"title":{"text":"JAR","anchor":"start","frame":"group","dx":6,"offset":-5,"fontSize":11},
      "data":{"name":"phase"},"transform":[{"filter":"datum.c=='JAR'"}],
      "mark":{"type":"bar"},
      "encoding":{
       "x":{"field":"ph","type":"nominal","sort":["G1/S","S","G2/M"],"scale":{"paddingInner":0.35,"paddingOuter":0.17},"axis":{"title":null,"labelAngle":0,"ticks":false,"labelPadding":5}},
       "xOffset":{"field":"g","type":"nominal","sort":["con","si con","si survivin"]},
       "y":{"field":"v","type":"quantitative","scale":{"domain":[0,50],"nice":false},"axis":{"values":[0,10,20,30,40,50],"title":"%","grid":true,"tickSize":4,"titlePadding":6}},
       "color":{"field":"g","type":"nominal","scale":{"domain":["con","si con","si survivin"],"range":["#a3b0b3","#6f8087","#000000"]},"legend":{"orient":"none","legendX":34,"legendY":7,"direction":"horizontal","title":null,"symbolType":"square","symbolSize":40,"columnPadding":5,"labelOffset":2,"labelFontSize":10}}}},
     {"width":191,"height":112,"title":{"text":"BeWo","anchor":"start","frame":"group","dx":6,"offset":-5,"fontSize":11},
      "data":{"name":"phase"},"transform":[{"filter":"datum.c=='BeWo'"}],
      "mark":{"type":"bar"},
      "encoding":{
       "x":{"field":"ph","type":"nominal","sort":["G1/S","S","G2/M"],"scale":{"paddingInner":0.35,"paddingOuter":0.17},"axis":{"title":null,"labelAngle":0,"ticks":false,"labelPadding":5}},
       "xOffset":{"field":"g","type":"nominal","sort":["con","si con","si survivin"]},
       "y":{"field":"v","type":"quantitative","scale":{"domain":[0,60],"nice":false},"axis":{"values":[0,10,20,30,40,50,60],"title":"%","grid":true,"tickSize":4,"titlePadding":6}},
       "color":{"field":"g","type":"nominal","legend":{"orient":"none","legendX":34,"legendY":4,"direction":"horizontal","title":null,"symbolType":"square","symbolSize":40,"columnPadding":5,"labelOffset":2,"labelFontSize":10}}}},
     {"width":191,"height":112,"title":{"text":"HTR","anchor":"start","frame":"group","dx":6,"offset":-5,"fontSize":11},
      "data":{"name":"phase"},"transform":[{"filter":"datum.c=='HTR'"}],
      "mark":{"type":"bar"},
      "encoding":{
       "x":{"field":"ph","type":"nominal","sort":["G1/S","S","G2/M"],"scale":{"paddingInner":0.35,"paddingOuter":0.17},"axis":{"title":"x","titleOpacity":0,"titleFontSize":20,"titlePadding":1,"labelAngle":0,"ticks":false,"labelPadding":5}},
       "xOffset":{"field":"g","type":"nominal","sort":["con","si con","si survivin"]},
       "y":{"field":"v","type":"quantitative","scale":{"domain":[0,60],"nice":false},"axis":{"values":[0,10,20,30,40,50,60],"title":"%","grid":true,"tickSize":4,"titlePadding":6}},
       "color":{"field":"g","type":"nominal","legend":{"orient":"none","legendX":34,"legendY":2,"direction":"horizontal","title":null,"symbolType":"square","symbolSize":40,"columnPadding":5,"labelOffset":2,"labelFontSize":10}}}}
    ],
    "bounds":"flush","spacing":48,
    "resolve":{"legend":{"color":"independent"}}
   }
  ]
 },
 {
  "columns":2,"spacing":15,
  "concat":[
   {
    "width":184,"height":150,
    "title":{"text":"C","anchor":"start","frame":"group","dx":-43,"offset":-11,"fontSize":19,"fontWeight":"bold"},
    "layer":[
     {"data":{"name":"blotrows"},"mark":{"type":"rect","color":"#d9d9d9"},
      "encoding":{
       "x":{"datum":0.5,"type":"quantitative","scale":{"domain":[0.5,6.5],"nice":false,"zero":false,"range":[26,184]},"axis":null},
       "x2":{"datum":6.5},
       "y":{"field":"row","type":"nominal","scale":{"domain":["cleaved-PARP","survivin","β-actin"],"range":[65,150],"paddingInner":0.12,"paddingOuter":0},"axis":{"title":null,"orient":"left","labelExpr":"datum.value=='survivin'?'17':datum.value=='β-actin'?'43':'89'","tickSize":8,"tickColor":"#000","tickWidth":1.3,"domain":false,"offset":-24,"labelPadding":2,"labelFontSize":10.5}}}},
     {"data":{"name":"bands"},"mark":{"type":"point","filled":true,"color":"#111","strokeWidth":0},
      "encoding":{
       "x":{"field":"lane","type":"quantitative","axis":null},
       "y":{"field":"row","type":"nominal","axis":null},
       "shape":{"field":"row","type":"nominal","scale":{"domain":["cleaved-PARP","survivin","β-actin"],"range":["M-1,0A1,0.42,0,1,1,1,0A1,0.42,0,1,1,-1,0Z","M-1,0A1,0.5,0,1,1,1,0A1,0.5,0,1,1,-1,0Z","M-1,0A1,0.24,0,1,1,1,0A1,0.24,0,1,1,-1,0Z"]},"legend":null},
       "size":{"field":"k","type":"quantitative","scale":{"domain":[0,1],"range":[500,1300]},"legend":null},
       "opacity":{"field":"k","type":"quantitative","scale":{"domain":[0,1],"range":[0.05,0.35]},"legend":null}}},
     {"data":{"name":"bands"},"mark":{"type":"point","filled":true,"color":"#111","strokeWidth":0},
      "encoding":{
       "x":{"field":"lane","type":"quantitative","axis":{"orient":"bottom","values":[1,2,3,4,5,6],"format":"d","ticks":false,"domain":false,"labelPadding":5,"title":null,"grid":false,"labelFontSize":10.5}},
       "y":{"field":"row","type":"nominal","axis":{"orient":"right","title":null,"tickSize":18,"tickColor":"#000","tickWidth":1.2,"domain":false,"offset":6,"labelPadding":3,"labelFontSize":10.5}},
       "shape":{"field":"row","type":"nominal","legend":null},
       "size":{"field":"k","type":"quantitative","scale":{"domain":[0,1],"range":[250,800]},"legend":null},
       "opacity":{"field":"k","type":"quantitative","scale":{"domain":[0,1],"range":[0.15,0.95]},"legend":null}}},
     {"data":{"name":"blotrows"},"mark":{"type":"point","shape":"triangle-left","filled":true,"color":"#000","size":30,"xOffset":8,"opacity":1},
      "encoding":{"x":{"datum":6.5,"type":"quantitative","axis":null},"y":{"field":"row","type":"nominal","axis":null}}},
     {"data":{"name":"lanes"},"mark":{"type":"text","angle":270,"align":"left","baseline":"middle","yOffset":-16.5,"fontSize":9.5},
      "encoding":{"x":{"field":"lane","type":"quantitative","axis":null},"y":{"datum":"cleaved-PARP","type":"nominal","axis":null},"text":{"field":"cond"}}},
     {"data":{"name":"blotgrp"},"mark":{"type":"rule","color":"#666","strokeWidth":2,"yOffset":-61.5},
      "encoding":{"x":{"field":"a","type":"quantitative","axis":null},"x2":{"field":"b"},"y":{"datum":"cleaved-PARP","type":"nominal","axis":null}}},
     {"data":{"name":"blotgrp"},"mark":{"type":"text","yOffset":-66,"fontSize":10.5},
      "encoding":{"x":{"field":"m","type":"quantitative","axis":null},"y":{"datum":"cleaved-PARP","type":"nominal","axis":null},"text":{"field":"tm"}}},
     {"data":{"values":[{"lab":"BeWo"}]},"mark":{"type":"text","xOffset":-32,"yOffset":-45.5,"fontSize":10.5},
      "encoding":{"x":{"datum":0.5,"type":"quantitative","axis":null},"y":{"datum":"cleaved-PARP","type":"nominal","axis":null},"text":{"field":"lab"}}}
    ],
    "resolve":{"axis":{"x":"independent","y":"independent"},"scale":{"size":"independent","opacity":"independent"}}
   },
   {
    "width":322,"height":124,
    "title":{"text":"D","anchor":"start","frame":"group","dx":133,"offset":-11,"fontSize":19,"fontWeight":"bold"},
    "resolve":{"axis":{"x":"independent","y":"independent"}},
    "layer":[
     {"data":{"name":"casp"},"mark":{"type":"bar","color":"#000"},
      "encoding":{
       "x":{"field":"id","type":"nominal","scale":{"domain":["JAR|24 h|con","JAR|24 h|si con","JAR|24 h|si survivin","JAR|48 h|con","JAR|48 h|si con","JAR|48 h|si survivin","BeWo|24 h|con","BeWo|24 h|si con","BeWo|24 h|si survivin","BeWo|48 h|con","BeWo|48 h|si con","BeWo|48 h|si survivin"],"paddingInner":0.57,"paddingOuter":0.31},"axis":{"title":null,"labelAngle":-90,"ticks":false,"labelPadding":4,"labelFontSize":10,"labelExpr":"split(datum.value,'|')[2]"}},
       "y":{"field":"v","type":"quantitative","scale":{"domain":[0,9],"nice":false},"axis":{"values":[0,2,4,6,8],"grid":true,"tickSize":4,"title":"relative activity of caspase-3/7 (fold)","titleFontSize":10,"titleAnchor":"end","titlePadding":6}}}},
     {"data":{"name":"casp"},"mark":{"type":"tick","color":"#999","thickness":1.5,"size":11},
      "encoding":{"x":{"field":"id","type":"nominal","axis":null},"y":{"field":"hi","type":"quantitative","axis":null}}},
     {"data":{"name":"caspgrp"},"mark":{"type":"rule","color":"#888","strokeWidth":2.5,"yOffset":51},
      "encoding":{"x":{"field":"a","type":"nominal","bandPosition":0,"axis":null},"x2":{"field":"b","bandPosition":1},"y":{"datum":0,"type":"quantitative","axis":null}}},
     {"data":{"name":"caspgrp"},"mark":{"type":"text","yOffset":58,"fontSize":10.5},
      "encoding":{"x":{"field":"m","type":"nominal","axis":null},"y":{"datum":0,"type":"quantitative","axis":null},"text":{"field":"tm"}}},
     {"data":{"name":"caspcell"},"mark":{"type":"text","yOffset":69,"xOffset":-7.5,"fontSize":10.5},
      "encoding":{"x":{"field":"k","type":"nominal","bandPosition":0,"axis":null},"y":{"datum":0,"type":"quantitative","axis":null},"text":{"field":"cl"}}}
    ]
   }
  ]
 }
]
}
